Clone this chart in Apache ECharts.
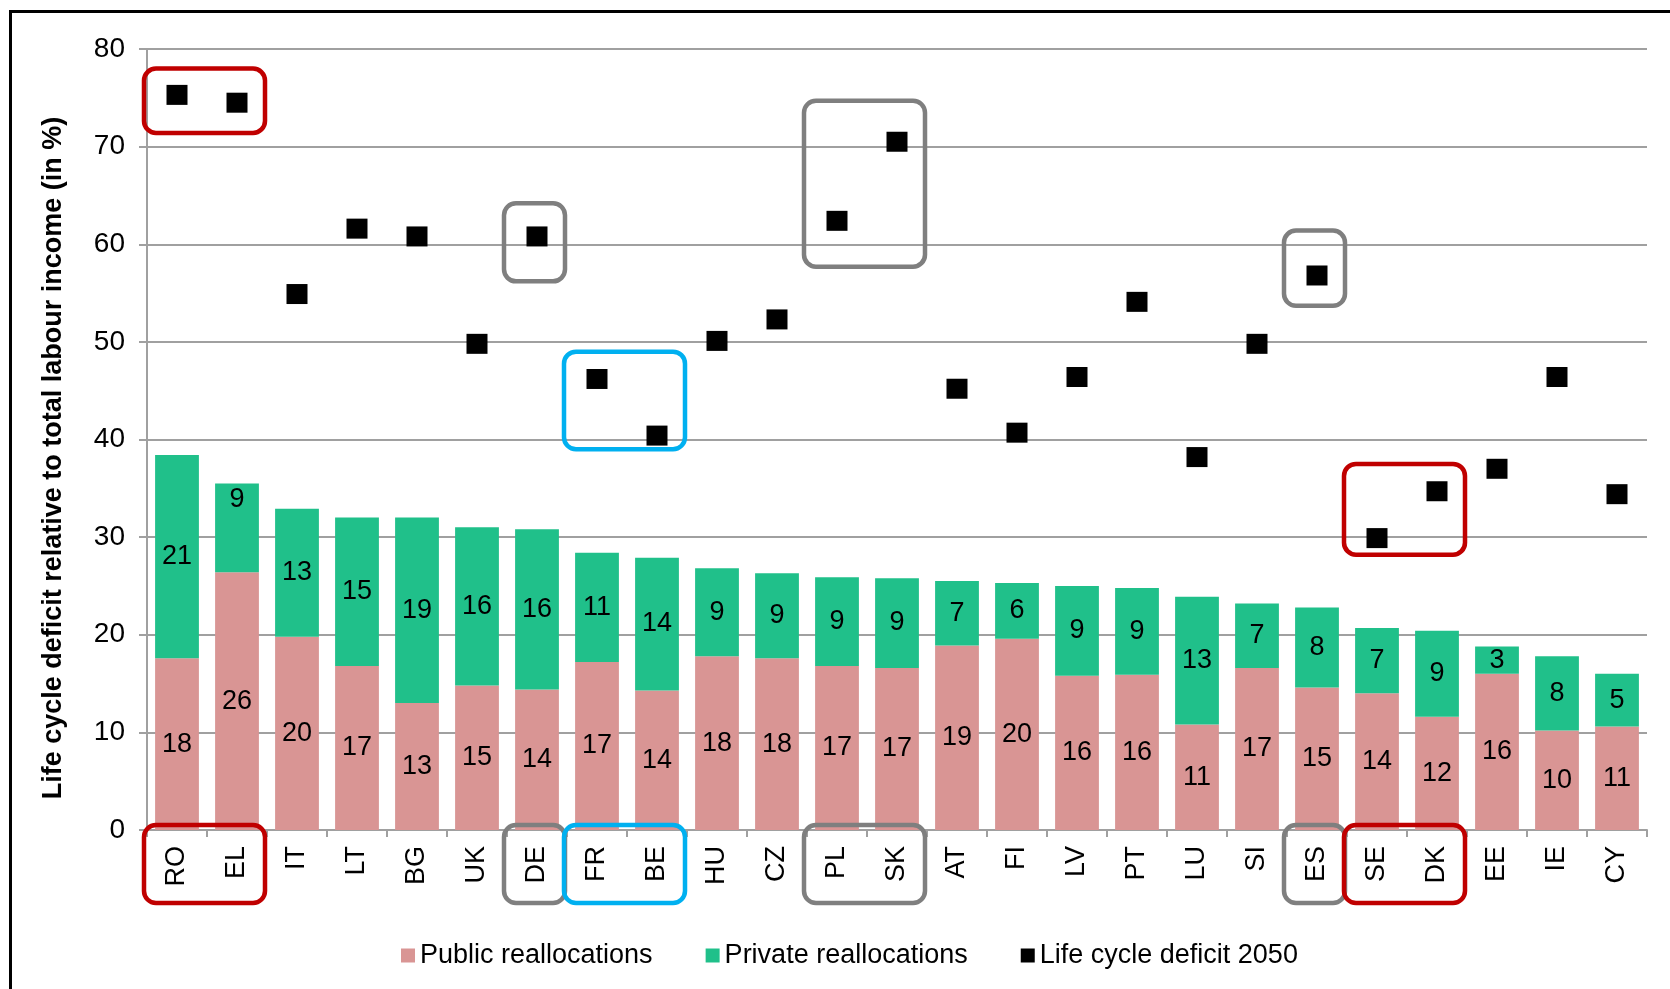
<!DOCTYPE html>
<html>
<head>
<meta charset="utf-8">
<script src="https://cdn.jsdelivr.net/npm/echarts@6/dist/echarts.min.js"></script>
<style>
html,body{margin:0;padding:0;background:#fff;}
#chart{width:1670px;height:989px;}
</style>
</head>
<body>
<div id="chart"></div>
<script>
var categories = ['RO','EL','IT','LT','BG','UK','DE','FR','BE','HU','CZ','PL','SK','AT','FI','LV','PT','LU','SI','ES','SE','DK','EE','IE','CY'];
var publicRealloc = [17.6,26.4,19.8,16.8,13.0,14.8,14.4,17.2,14.3,17.8,17.6,16.8,16.6,18.9,19.6,15.8,15.9,10.8,16.6,14.6,14.0,11.6,16.0,10.2,10.6];
var privateRealloc = [20.8,9.1,13.1,15.2,19.0,16.2,16.4,11.2,13.6,9.0,8.7,9.1,9.2,6.6,5.7,9.2,8.9,13.1,6.6,8.2,6.7,8.8,2.8,7.6,5.4];
var deficit2050 = [75.3,74.5,54.9,61.6,60.8,49.8,60.8,46.2,40.4,50.1,52.3,62.4,70.5,45.2,40.7,46.4,54.1,38.2,49.8,56.8,29.9,34.7,37.0,46.4,34.4];
var yTicks = [0,10,20,30,40,50,60,70,80];

// highlighted groups (annotation boxes): categories + value range around the points
var highlightGroups = [
  {cats:['RO','EL'], color:'#C00000', lo:71.4, hi:78.0},
  {cats:['DE'], color:'#7F7F7F', lo:56.2, hi:64.2},
  {cats:['FR','BE'], color:'#00B0F0', lo:39.0, hi:49.0},
  {cats:['PL','SK'], color:'#7F7F7F', lo:57.7, hi:74.7},
  {cats:['ES'], color:'#7F7F7F', lo:53.7, hi:61.4},
  {cats:['SE','DK'], color:'#C00000', lo:28.2, hi:37.5}
];

var FONT = '"Liberation Sans", Arial, sans-serif';
var PINK = '#D99594';
var GREEN = '#20C08A';
var GRID = '#A0A0A0';

var chart = echarts.init(document.getElementById('chart'), null, {renderer:'canvas'});

var option = {
  animation: false,
  backgroundColor: '#fff',
  textStyle: {fontFamily: FONT},
  grid: {left: 147, right: 23, top: 49, bottom: 159, containLabel: false},
  legend: {
    left: 396, top: 937,
    icon: 'rect', itemWidth: 14, itemHeight: 14, itemGap: 53,
    textStyle: {fontSize: 27, color: '#000', fontFamily: FONT},
    data: ['Public reallocations','Private reallocations','Life cycle deficit 2050']
  },
  xAxis: {
    type: 'category',
    data: categories,
    boundaryGap: true,
    axisLine: {lineStyle: {color: GRID, width: 2}},
    axisTick: {show: true, length: 7, lineStyle: {color: GRID, width: 2}},
    axisLabel: {rotate: 90, margin: 16, fontSize: 27, color: '#000', fontFamily: FONT, interval: 0}
  },
  yAxis: {
    type: 'value',
    min: yTicks[0], max: yTicks[yTicks.length-1], interval: 10,
    name: 'Life cycle deficit relative to total labour income (in %)',
    nameLocation: 'middle',
    nameGap: 80,
    nameTextStyle: {fontSize: 27, fontWeight: 'bold', color: '#000', fontFamily: FONT, padding: [0, 37, 0, 0]},
    axisLine: {show: true, lineStyle: {color: GRID, width: 2}},
    axisTick: {show: true, length: 8, lineStyle: {color: GRID, width: 2}},
    axisLabel: {margin: 22, fontSize: 28, color: '#000', fontFamily: FONT},
    splitLine: {show: true, lineStyle: {color: GRID, width: 2}}
  },
  series: [
    {
      name: 'Public reallocations', type: 'bar', stack: 'total',
      barCategoryGap: '27%',
      itemStyle: {color: PINK},
      label: {show: true, position: 'inside', color: '#000', fontSize: 27, fontFamily: FONT,
              formatter: function(p){ return Math.round(p.value); }},
      data: publicRealloc
    },
    {
      name: 'Private reallocations', type: 'bar', stack: 'total',
      barCategoryGap: '27%',
      itemStyle: {color: GREEN},
      label: {show: true, position: 'inside', color: '#000', fontSize: 27, fontFamily: FONT,
              formatter: function(p){ return Math.round(p.value); }},
      data: privateRealloc.map(function(v, i){
        if (categories[i] === 'EL') return {value: v, label: {offset: [0, -28]}};
        return v;
      })
    },
    {
      name: 'Life cycle deficit 2050', type: 'scatter',
      symbol: 'rect', symbolSize: [21, 20],
      itemStyle: {color: '#000', opacity: 1},
      z: 5,
      data: deficit2050
    }
  ]
};
chart.setOption(option);

function buildGraphics(){
  var gfx = [];
  var x0 = chart.convertToPixel({xAxisIndex: 0}, 0);
  var x1 = chart.convertToPixel({xAxisIndex: 0}, 1);
  var band = x1 - x0;
  var yZero = chart.convertToPixel({yAxisIndex: 0}, 0);
  highlightGroups.forEach(function(g){
    var idx = g.cats.map(function(c){ return categories.indexOf(c); });
    var first = Math.min.apply(null, idx), last = Math.max.apply(null, idx);
    var left = chart.convertToPixel({xAxisIndex: 0}, first) - band/2 - 3;
    var right = chart.convertToPixel({xAxisIndex: 0}, last) + band/2 - 2;
    var top = chart.convertToPixel({yAxisIndex: 0}, g.hi);
    var bottom = chart.convertToPixel({yAxisIndex: 0}, g.lo);
    gfx.push({
      type: 'rect', z: 100,
      shape: {x: left, y: top, width: right - left, height: bottom - top, r: 12},
      style: {fill: 'none', stroke: g.color, lineWidth: 4.5}
    });
    gfx.push({
      type: 'rect', z: 100,
      shape: {x: left, y: yZero - 5, width: right - left, height: 78, r: 12},
      style: {fill: 'none', stroke: g.color, lineWidth: 4.5}
    });
  });
  gfx.push({
    type: 'rect', z: 100,
    shape: {x: 10.5, y: 11.5, width: 1700, height: 1100},
    style: {fill: 'none', stroke: '#000', lineWidth: 3}
  });
  chart.setOption({graphic: gfx});
}
buildGraphics();
</script>
</body>
</html>
